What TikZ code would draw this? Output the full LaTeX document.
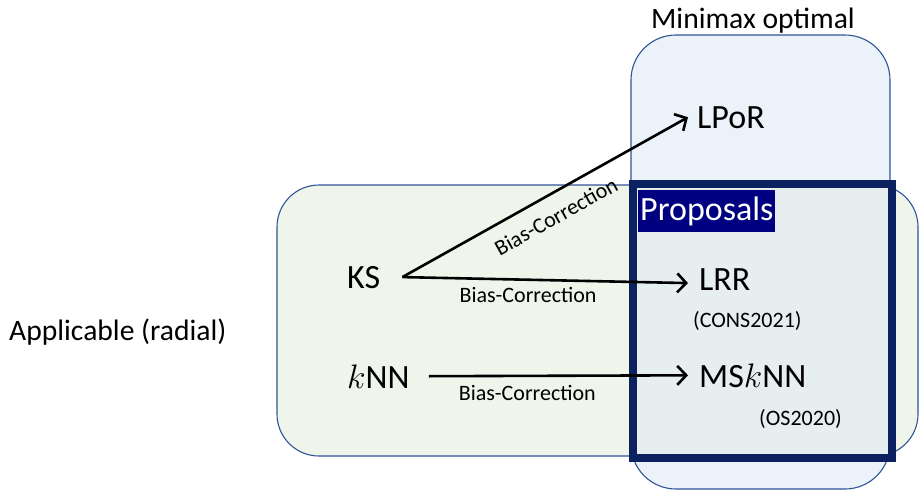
\RequirePackage{fix-cm}
\documentclass[tikz,border=0pt]{standalone}
\usepackage{fontspec}
\setmainfont{Carlito}
\usetikzlibrary{arrows.meta}
\definecolor{greenfill}{HTML}{EFF5EB}
\definecolor{bluefill}{HTML}{EBF2FA}
\definecolor{propfill}{HTML}{E6EEF0}
\definecolor{boxline}{HTML}{2F5597}
\definecolor{navyline}{HTML}{0B2160}
\definecolor{navybg}{HTML}{000080}
\tikzset{
  region/.style={draw=boxline, line width=1.1pt, rounded corners=42pt},
  biglbl/.style={inner sep=0pt, anchor=base west, font=\fontsize{34}{38}\selectfont},
  midlbl/.style={inner sep=0pt, font=\fontsize{29.6}{34}\selectfont},
  smalllbl/.style={inner sep=0pt, anchor=base west, font=\fontsize{22}{26}\selectfont},
  edgelbl/.style={inner sep=0pt, font=\fontsize{22}{26}\selectfont},
  conn/.style={line width=2.6pt, -{Straight Barb[length=9pt,width=19pt,line width=2.6pt]}},
}
\begin{document}
\begin{tikzpicture}[x=1pt,y=-1pt]
\useasboundingbox (0,0) rectangle (920,491);
% regions
\filldraw[region, fill=greenfill] (277,185) rectangle (918,456);
\filldraw[region, fill=bluefill, rounded corners=45pt] (631,35) rectangle (890,489);
\filldraw[draw=navyline, fill=propfill, line width=8pt] (633,184) rectangle (892,458);
\node[fill=navybg, text=white, anchor=north west, inner xsep=2pt, inner ysep=0pt,
      minimum width=137pt, minimum height=42pt, font=\fontsize{34}{38}\selectfont]
      (prop) at (638,190) {Proposals};
% titles
\node[midlbl, anchor=base] (mm) at (753,28) {Minimax optimal};
\node[midlbl, anchor=base west] (app) at (9,340) {Applicable (radial)};
% nodes
\node[biglbl] (KS) at (347,288) {KS};
\node[biglbl] (kNN) at (347,388) {$k$NN};
\node[biglbl] (LPoR) at (697,128) {LPoR};
\node[biglbl] (LRR) at (699,290) {LRR};
\node[biglbl] (MSkNN) at (699,387) {MS$k$NN};
\node[smalllbl] (cons) at (693,327) {(CONS2021)};
\node[smalllbl] (os) at (759,425) {(OS2020)};
% connectors
\draw[conn] ([xshift=22pt]KS.east) -- ([xshift=-9pt]LPoR.west)
  node[edgelbl, sloped, pos=0.5, anchor=center, yshift=-22pt] {Bias-Correction};
\draw[conn] ([xshift=22pt]KS.east) -- ([xshift=-11pt,yshift=-4pt]LRR.west)
  node[edgelbl, pos=0.44, anchor=center, yshift=-15pt] {Bias-Correction};
\draw[conn] ([xshift=19pt]kNN.east) -- ([xshift=-11pt]MSkNN.west)
  node[edgelbl, pos=0.38, anchor=center, yshift=-17pt] {Bias-Correction};
\end{tikzpicture}
\end{document}
